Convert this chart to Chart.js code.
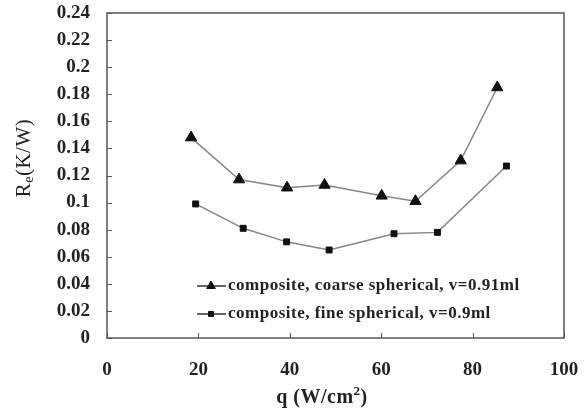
<!DOCTYPE html>
<html>
<head>
<meta charset="utf-8">
<title>Re vs q</title>
<script src="https://cdn.jsdelivr.net/npm/chart.js@4/dist/chart.umd.min.js"></script>
<style>
  html, body { margin: 0; padding: 0; background: #fff; }
  canvas { display: block; }
</style>
</head>
<body>
<canvas id="reChart" width="585" height="416"></canvas>
<script>
// Dados: q (W/cm²) e Re (K/W)
var qGrosso = [18.4, 28.9, 39.4, 47.6, 60.1, 67.5, 77.4, 85.4];
var reGrosso = [0.148, 0.117, 0.111, 0.113, 0.105, 0.101, 0.131, 0.185];
var qFino = [19.4, 29.8, 39.3, 48.6, 62.8, 72.3, 87.4];
var reFino = [0.099, 0.081, 0.071, 0.065, 0.077, 0.078, 0.127];

var nomesSeries = [
  'composite, coarse spherical, v=0.91ml',
  'composite, fine spherical, v=0.9ml'
];
var ticksX = [0, 20, 40, 60, 80, 100];
var ticksY = [0, 0.02, 0.04, 0.06, 0.08, 0.1, 0.12, 0.14, 0.16, 0.18, 0.2, 0.22, 0.24];

function pontos(xs, ys) {
  var out = [];
  for (var i = 0; i < xs.length; i++) out.push({ x: xs[i], y: ys[i] });
  return out;
}

var corLinha = '#858585';
var corMarca = '#111111';
var corEixo = '#555555';
var fonteSerif = '"Liberation Serif", "DejaVu Serif", serif';

// Moldura, marcas internas dos eixos, títulos e legenda desenhados à mão
var extras = {
  id: 'extras',
  afterDraw: function (chart) {
    var ctx = chart.ctx;
    var a = chart.chartArea;
    var sx = chart.scales.x;
    var sy = chart.scales.y;

    ctx.save();
    ctx.strokeStyle = corEixo;
    ctx.lineWidth = 1.5;
    ctx.strokeRect(a.left, a.top, a.right - a.left, a.bottom - a.top);

    ctx.lineWidth = 1;
    ctx.beginPath();
    ticksY.forEach(function (v) {
      var py = Math.round(sy.getPixelForValue(v)) + 0.5;
      ctx.moveTo(a.left, py);
      ctx.lineTo(a.left + 5, py);
    });
    ticksX.forEach(function (v) {
      var px = Math.round(sx.getPixelForValue(v)) + 0.5;
      ctx.moveTo(px, a.bottom);
      ctx.lineTo(px, a.bottom - 5);
    });
    ctx.stroke();

    // Título do eixo x
    ctx.fillStyle = '#222';
    ctx.textBaseline = 'middle';
    ctx.textAlign = 'left';
    ctx.letterSpacing = '0.5px';
    var cx = 322;
    var base = 'q (W/cm';
    ctx.font = 'bold 20px ' + fonteSerif;
    var w1 = ctx.measureText(base).width;
    var w3 = ctx.measureText(')').width;
    ctx.font = 'bold 13px ' + fonteSerif;
    var w2 = ctx.measureText('2').width;
    var x0 = cx - (w1 + w2 + w3) / 2;
    ctx.font = 'bold 20px ' + fonteSerif;
    ctx.fillText(base, x0, 398);
    ctx.fillText(')', x0 + w1 + w2, 398);
    ctx.font = 'bold 13px ' + fonteSerif;
    ctx.fillText('2', x0 + w1, 392);

    // Título do eixo y, com índice "e"
    ctx.translate(24, 158);
    ctx.rotate(-Math.PI / 2);
    ctx.font = '21px ' + fonteSerif;
    var r1 = ctx.measureText('R').width;
    var r3 = ctx.measureText('(K/W)').width;
    ctx.font = '14px ' + fonteSerif;
    var r2 = ctx.measureText('e').width;
    var y0 = -(r1 + r2 + r3) / 2;
    ctx.font = '21px ' + fonteSerif;
    ctx.fillText('R', y0, 0);
    ctx.fillText('(K/W)', y0 + r1 + r2, 0);
    ctx.font = '14px ' + fonteSerif;
    ctx.fillText('e', y0 + r1, 5);
    ctx.restore();

    // Legenda dentro da área do gráfico
    ctx.save();
    var linhas = [286, 314];
    chart.data.datasets.forEach(function (ds, i) {
      var ly = linhas[i];
      ctx.strokeStyle = '#333';
      ctx.lineWidth = 1.5;
      ctx.beginPath();
      ctx.moveTo(197, ly);
      ctx.lineTo(226, ly);
      ctx.stroke();
      ctx.fillStyle = corMarca;
      ctx.strokeStyle = corMarca;
      ctx.lineWidth = 1;
      Chart.helpers.drawPoint(ctx, {
        pointStyle: ds.pointStyle,
        radius: i === 0 ? 5 : 3.5,
        borderWidth: 1,
        rotation: 0
      }, 211, ly);
      ctx.fillStyle = '#222';
      ctx.font = 'bold 17px ' + fonteSerif;
      ctx.letterSpacing = '0.5px';
      ctx.textAlign = 'left';
      ctx.textBaseline = 'middle';
      ctx.fillText(nomesSeries[i], 228, ly);
      ctx.letterSpacing = '0px';
    });
    ctx.restore();
  }
};

var ctx = document.getElementById('reChart').getContext('2d');
new Chart(ctx, {
  type: 'scatter',
  data: {
    datasets: [{
      label: nomesSeries[0],
      data: pontos(qGrosso, reGrosso),
      showLine: true,
      borderColor: corLinha,
      borderWidth: 1.5,
      pointStyle: 'triangle',
      pointRadius: 6.5,
      pointBackgroundColor: corMarca,
      pointBorderColor: corMarca,
      pointBorderWidth: 1
    }, {
      label: nomesSeries[1],
      data: pontos(qFino, reFino),
      showLine: true,
      borderColor: corLinha,
      borderWidth: 1.5,
      pointStyle: 'rect',
      pointRadius: 4.2,
      pointBackgroundColor: corMarca,
      pointBorderColor: corMarca,
      pointBorderWidth: 1
    }]
  },
  options: {
    responsive: false,
    animation: false,
    layout: { padding: { top: 13, right: 21, left: 0, bottom: 0 } },
    plugins: {
      legend: { display: false },
      tooltip: { enabled: false }
    },
    scales: {
      x: {
        type: 'linear',
        min: 0,
        max: 100,
        afterBuildTicks: function (s) {
          s.ticks = ticksX.map(function (v) { return { value: v }; });
        },
        afterFit: function (s) {
          s.height = 78;
          s.paddingLeft = 0;
          s.paddingRight = 0;
        },
        grid: { display: false, drawTicks: false },
        border: { display: false },
        ticks: {
          padding: 21,
          color: '#222',
          font: { family: fonteSerif, size: 19, weight: 'bold' },
          maxRotation: 0
        }
      },
      y: {
        type: 'linear',
        min: 0,
        max: 0.24,
        afterBuildTicks: function (s) {
          s.ticks = ticksY.map(function (v) { return { value: v }; });
        },
        afterFit: function (s) {
          s.width = 107;
          s.paddingTop = 0;
          s.paddingBottom = 0;
        },
        grid: { display: false, drawTicks: false },
        border: { display: false },
        ticks: {
          padding: 17,
          color: '#222',
          font: { family: fonteSerif, size: 19, weight: 'bold' },
          callback: function (v) { return String(Math.round(v * 100) / 100); }
        }
      }
    }
  },
  plugins: [extras]
});
</script>
</body>
</html>
